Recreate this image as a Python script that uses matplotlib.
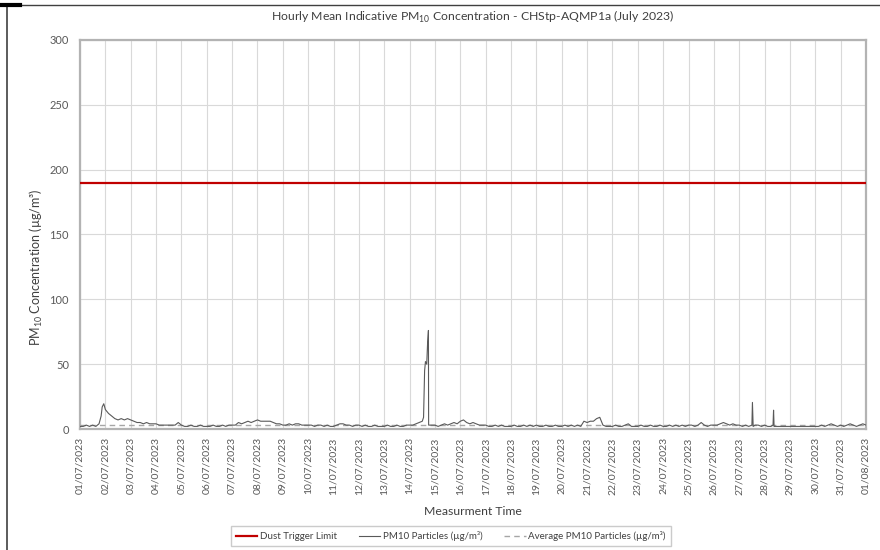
import numpy as np
import pandas as pd
import matplotlib
matplotlib.use('Agg')
import matplotlib.pyplot as plt
import matplotlib.dates as mdates
from matplotlib.lines import Line2D

plt.rcParams['font.family'] = ['Lato', 'DejaVu Sans']
plt.rcParams['mathtext.fontset'] = 'custom'
plt.rcParams['mathtext.rm'] = 'Lato'

# 3-hourly readings (00,03,06,09,12,15,18,21h) for each day of July 2023
daily_pm10 = [
    [2, 2, 3, 2, 3, 2, 4, 17],    # 01/07
    [15, 12, 10, 8, 7, 8, 7, 8],  # 02/07
    [7, 6, 5, 5, 4, 5, 4, 4],     # 03/07
    [4, 3, 3, 3, 3, 3, 3, 5],     # 04/07
    [3, 2, 2, 3, 2, 2, 3, 2],     # 05/07
    [2, 2, 3, 2, 2, 3, 2, 3],     # 06/07
    [3, 3, 5, 4, 5, 6, 5, 6],     # 07/07
    [7, 6, 6, 6, 6, 5, 4, 4],     # 08/07
    [3, 3, 4, 3, 4, 4, 3, 3],     # 09/07
    [3, 3, 2, 3, 3, 2, 3, 2],     # 10/07
    [2, 3, 4, 4, 3, 3, 2, 3],     # 11/07
    [3, 2, 3, 2, 2, 3, 2, 2],     # 12/07
    [2, 3, 2, 2, 3, 2, 2, 3],     # 13/07
    [3, 3, 4, 5, 6, 52, 3, 3],    # 14/07
    [3, 2, 3, 4, 3, 4, 5, 4],     # 15/07
    [6, 7, 5, 4, 5, 4, 3, 3],     # 16/07
    [3, 2, 2, 3, 2, 3, 2, 2],     # 17/07
    [2, 3, 2, 2, 3, 2, 3, 2],     # 18/07
    [3, 2, 2, 3, 2, 2, 3, 2],     # 19/07
    [2, 3, 2, 3, 2, 3, 2, 6],     # 20/07
    [5, 6, 6, 8, 9, 3, 2, 2],     # 21/07
    [2, 3, 2, 2, 3, 4, 2, 2],     # 22/07
    [2, 3, 2, 2, 3, 2, 2, 3],     # 23/07
    [2, 2, 3, 2, 3, 2, 3, 2],     # 24/07
    [3, 3, 2, 3, 5, 3, 2, 3],     # 25/07
    [3, 3, 4, 5, 4, 3, 4, 3],     # 26/07
    [3, 2, 3, 2, 3, 3, 3, 2],     # 27/07
    [3, 2, 2, 2, 2, 2, 2, 2],     # 28/07
    [2, 2, 2, 2, 2, 2, 2, 2],     # 29/07
    [2, 2, 3, 2, 3, 4, 3, 2],     # 30/07
    [3, 2, 3, 4, 3, 2, 3, 4],     # 31/07
]
end_value = 3

# short-lived peaks: hours since 01/07 00:00 and values
peak_hours = [20.0, 22.5, 325.2, 326.2, 328.2, 329.0, 329.8,
              636.0, 636.5, 637.2, 656.0, 656.5, 657.2]
peak_pm10 = [10, 19.5, 9, 45, 50, 66, 76,
             3, 20.5, 2, 3, 14.5, 2]

trigger_limit = 190
avg_pm10 = 3.3

start = pd.Timestamp('2023-07-01')
grid_hours = [d * 24 + h for d in range(len(daily_pm10)) for h in range(0, 24, 3)] + [744]
grid_vals = [v for row in daily_pm10 for v in row] + [end_value]
series = pd.Series(grid_vals + peak_pm10, index=grid_hours + peak_hours).sort_index()
times = start + pd.to_timedelta(series.index, unit='h')
day_ticks = pd.date_range('2023-07-01', '2023-08-01', freq='D')

fig = plt.figure(figsize=(8.8, 5.5), dpi=100)
ax = fig.add_axes([80 / 880, 1 - 429 / 550, 786 / 880, 389 / 550])

ax.axhline(trigger_limit, color='#c00000', lw=1.6, label='Dust Trigger Limit', zorder=3)
ax.plot(times, series.values, color='#595959', lw=0.8, label='PM10 Particles (µg/m³)', zorder=4)
ax.axhline(avg_pm10, color='#a6a6a6', lw=1.0, ls=(0, (4, 3)),
           label='Average PM10 Particles (µg/m³)', zorder=3)

ax.set_xlim(day_ticks[0], day_ticks[-1])
ax.set_ylim(0, 300)
ax.set_yticks(range(0, 301, 50))
ax.set_xticks(day_ticks)
ax.xaxis.set_major_formatter(mdates.DateFormatter('%d/%m/%Y'))
ax.tick_params(axis='x', rotation=90, labelsize=7.5, length=0, pad=6, colors='#595959')
ax.tick_params(axis='y', labelsize=8, length=0, pad=8, colors='#595959')
ax.grid(True, color='#d9d9d9', lw=0.8)
ax.set_axisbelow(True)
for s in ax.spines.values():
    s.set_color('#b3b3b3')
    s.set_linewidth(1.6)

ax.set_title('Hourly Mean Indicative PM$_{10}$ Concentration - CHStp-AQMP1a (July 2023)',
             fontsize=8.8, color='#404040', pad=14)
ax.set_ylabel('PM$_{10}$ Concentration (µg/m³)', fontsize=9, color='#404040')
ax.yaxis.set_label_coords((45 - 80) / 786, (429 - 267) / 389)
ax.set_xlabel('Measurment Time', fontsize=8.8, color='#404040', labelpad=8)

h, l = ax.get_legend_handles_labels()
fig.legend(h, l, loc='center', bbox_to_anchor=(451 / 880, 1 - 536 / 550), ncol=3,
           fontsize=7, frameon=True, fancybox=False, edgecolor='#bfbfbf',
           handlelength=2.2, handletextpad=0.3, columnspacing=2.2, borderpad=0.5,
           labelcolor='#404040')

# outer frame lines
fig.add_artist(Line2D([7 / 880, 7 / 880], [0, 1 - 5 / 550], color='#404040', lw=1.2))
fig.add_artist(Line2D([7 / 880, 1], [1 - 5 / 550, 1 - 5 / 550], color='#404040', lw=1.0))
fig.add_artist(Line2D([0, 20 / 880], [1 - 5 / 550, 1 - 5 / 550], color='black', lw=3))

fig.savefig('out.png', dpi=100)
